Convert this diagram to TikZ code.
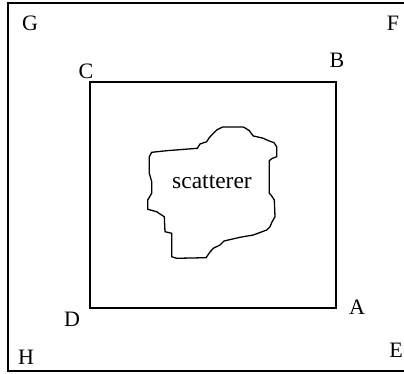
\documentclass[tikz,border=0pt]{standalone}
\usepackage{fontspec}
\setmainfont{Liberation Serif}
\usepackage{tikz}
\usetikzlibrary{positioning}
\tikzset{
  frame/.style={draw=black,line width=1.4pt},
  blob/.style={draw=black,line width=1.3pt,line join=miter},
  corner/.style={font=\fontsize{22}{24}\selectfont,inner sep=0pt},
  tag/.style={font=\fontsize{23.5}{26}\selectfont,inner sep=0pt},
}

\begin{document}
\begin{tikzpicture}[x=1pt,y=-1pt]
  \useasboundingbox (0,0) rectangle (404,374);
  \clip (0,0) rectangle (404,374);
  % outer region
  \coordinate (G) at (8,3);
  \coordinate (F) at (420,3);
  \coordinate (E) at (420,371);
  \coordinate (H) at (8,371);
  % inner box
  \coordinate (A) at (336,308);
  \coordinate (B) at (336,82);
  \coordinate (C) at (90,82);
  \coordinate (D) at (90,308);

  \draw[frame] (G) -- (F) -- (E) -- (H) -- cycle;
  \draw[frame] (A) -- (B) -- (C) -- (D) -- cycle;

  \node[corner] (labA) at (357,307) {A};
  \node[corner] (labB) at (337,60) {B};
  \node[corner] (labC) at (86,71) {C};
  \node[corner] (labD) at (72,319) {D};
  \node[corner] (labE) at (396,350) {E};
  \node[corner] (labF) at (393,23) {F};
  \node[corner] (labG) at (30,23) {G};
  \node[corner] (labH) at (26,357) {H};

  % scatterer outline
  \draw[blob] (222.7,127) -- (243.3,127) -- (246,128.5) -- (249.3,130.7) -- (251,133)
    -- (253.3,136) -- (258,137) -- (263.3,138.3) -- (268,140.5) -- (274,142.7)
    -- (276.7,146.7) -- (276.7,156.7) -- (272,158.5) -- (269.3,160.7) -- (269.3,193.3)
    -- (271,195) -- (274.3,200) -- (275,216.7) -- (272,222) -- (270,226.7) -- (266.7,230)
    -- (260,232.5) -- (253.3,235) -- (240,237.3) -- (224,241) -- (220,245) -- (213.3,248.3)
    -- (210,252) -- (206,257.7) -- (176.7,258.3) -- (171.7,256.7) -- (171.7,233.3)
    -- (165,231.7) -- (164.3,216.7) -- (160,214) -- (156.7,211.7) -- (147.7,209.3)
    -- (147.7,200) -- (151.7,193.3) -- (151.7,181.7) -- (149.3,173.3) -- (149.3,156.7)
    -- (151.7,152.3) -- (166.7,150.7) -- (197.3,148.3) -- (200,144) -- (206.7,141.7)
    -- (209,138) -- (211.7,135) -- (216.7,130) -- cycle;
  \node[tag] (scat) at (212,182) {scatterer};
\end{tikzpicture}
\end{document}
